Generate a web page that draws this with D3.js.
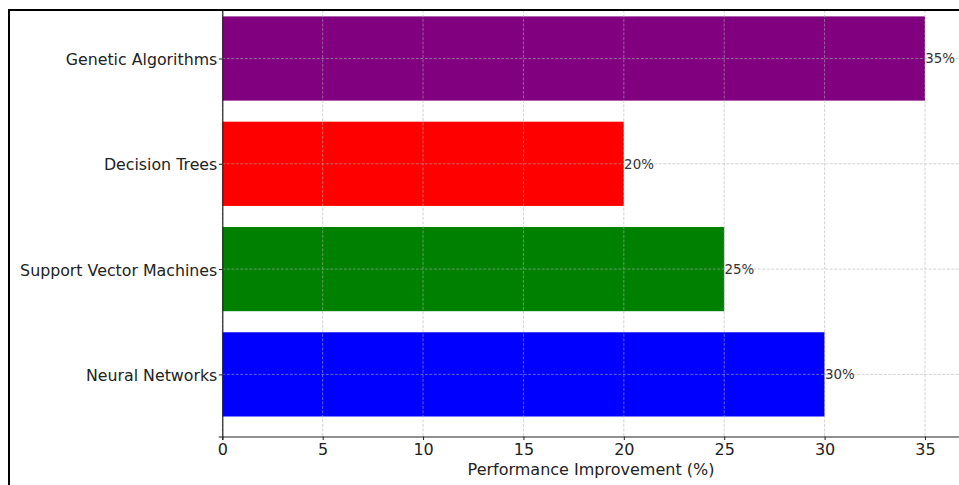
<!DOCTYPE html>
<html>
<head>
<meta charset="utf-8">
<script src="https://cdn.jsdelivr.net/npm/d3@7"></script>
<style>
html,body{margin:0;padding:0;background:#fff;}
svg{display:block;font-family:"DejaVu Sans",sans-serif;}
</style>
</head>
<body>
<svg id="chart" width="959" height="485"></svg>
<script>
const categories = ["Neural Networks", "Support Vector Machines", "Decision Trees", "Genetic Algorithms"];
const values = [30, 25, 20, 35];
const colors = ["blue", "green", "red", "purple"];
const xTicks = [0, 5, 10, 15, 20, 25, 30, 35];
const xLabel = "Performance Improvement (%)";

const svg = d3.select("#chart");
const pLeft = 222.3, pRight = 960.1, pBottom = 436.5, pTop = -3.6;

const x = d3.scaleLinear().domain([0, 36.75]).range([pLeft, pRight]);
const y = d3.scaleLinear().domain([-0.59, 3.59]).range([pBottom, pTop]);
const bandH = y(0) - y(0.8);

svg.append("defs").append("clipPath").attr("id", "clip")
  .append("rect").attr("x", 10).attr("y", 11).attr("width", 959).attr("height", 485);

const g = svg.append("g").attr("clip-path", "url(#clip)");

// bars
g.selectAll("rect.bar").data(values).join("rect")
  .attr("class", "bar")
  .attr("x", x(0))
  .attr("y", (d, i) => y(i + 0.4))
  .attr("width", d => x(d) - x(0))
  .attr("height", bandH)
  .attr("fill", (d, i) => colors[i]);

// grid (drawn over bars)
g.selectAll("line.vg").data(xTicks).join("line")
  .attr("class", "vg")
  .attr("x1", d => x(d)).attr("x2", d => x(d))
  .attr("y1", pTop).attr("y2", pBottom)
  .attr("stroke", "#b0b0b0").attr("stroke-opacity", 0.7)
  .attr("stroke-width", 0.8).attr("stroke-dasharray", "3,1.5");
g.selectAll("line.hg").data(categories).join("line")
  .attr("class", "hg")
  .attr("x1", pLeft).attr("x2", pRight)
  .attr("y1", (d, i) => y(i)).attr("y2", (d, i) => y(i))
  .attr("stroke", "#b0b0b0").attr("stroke-opacity", 0.7)
  .attr("stroke-width", 0.8).attr("stroke-dasharray", "3,1.5");

// value labels
g.selectAll("text.val").data(values).join("text")
  .attr("class", "val")
  .attr("x", d => x(d) + 0.3)
  .attr("y", (d, i) => y(i))
  .attr("dy", "0.36em")
  .attr("font-size", "13.4px")
  .attr("fill", "#333")
  .text(d => d + "%");

// x axis
const xAxis = d3.axisBottom(x).tickValues(xTicks).tickSize(3.5).tickPadding(3.5).tickFormat(d3.format("d"));
const xg = g.append("g").attr("transform", `translate(0,${pBottom})`).call(xAxis);
xg.select(".domain").attr("stroke", "#222").attr("stroke-width", 1.2);
xg.selectAll(".tick line").attr("stroke", "#222");
xg.selectAll(".tick text").attr("font-size", "16px").attr("fill", "#222").attr("font-family", "DejaVu Sans");

// y axis
const yAxis = d3.axisLeft(y).tickValues([0, 1, 2, 3]).tickSize(3.5).tickPadding(1.5).tickFormat(i => categories[i]);
const yg = g.append("g").attr("transform", `translate(${pLeft},0)`).call(yAxis);
yg.select(".domain").attr("stroke", "#222").attr("stroke-width", 1.2);
yg.selectAll(".tick line").attr("stroke", "#222");
yg.selectAll(".tick text").attr("font-size", "15.8px").attr("fill", "#222").attr("font-family", "DejaVu Sans").attr("dy", "0.38em");

// x label
g.append("text")
  .attr("x", 591)
  .attr("y", 475)
  .attr("text-anchor", "middle")
  .attr("font-size", "16px")
  .attr("fill", "#222")
  .text(xLabel);

// outer border
svg.append("line").attr("x1", 9).attr("x2", 9).attr("y1", 9).attr("y2", 485).attr("stroke", "#000").attr("stroke-width", 2);
svg.append("line").attr("x1", 8).attr("x2", 959).attr("y1", 10).attr("y2", 10).attr("stroke", "#000").attr("stroke-width", 2);
</script>
</body>
</html>
